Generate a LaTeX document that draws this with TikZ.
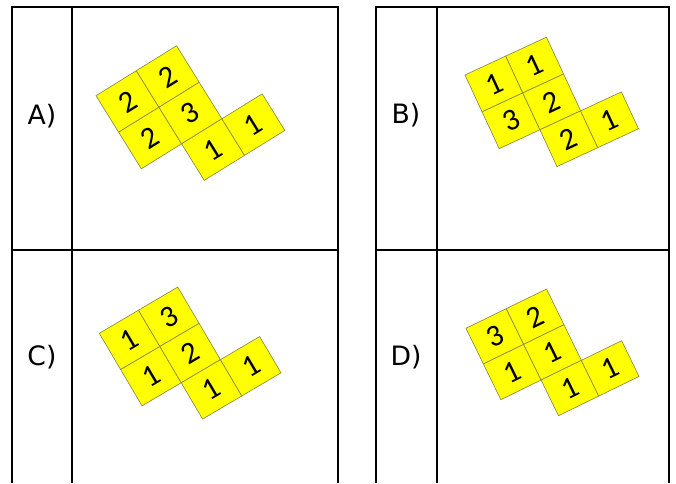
\documentclass[tikz,border=0pt]{standalone}
\usepackage{fontspec}
\newfontfamily\tilefont{Carlito}
\newfontfamily\labelfont{DejaVu Sans}
\definecolor{tileyellow}{RGB}{255,255,0}
\definecolor{tileedge}{RGB}{140,140,70}
\tikzset{
  frame/.style={line width=1.4pt, black},
  lab/.style={anchor=base, font=\labelfont\fontsize{20}{20}\selectfont, inner sep=0pt},
  tile/.style args={#1/#2}{draw=tileedge, fill=tileyellow, line width=0.5pt,
     inner sep=0pt, outer sep=0pt, transform shape,
     minimum width=#1*0.75pt, minimum height=#2*0.75pt,
     font=\tilefont\fontsize{23}{23}\selectfont}
}
\begin{document}
\begin{tikzpicture}[x=0.75pt, y=-0.75pt]
\useasboundingbox (0,0) rectangle (676,483);
% frames
\draw[frame] (12,483) -- (12,7.4) -- (338,7.4) -- (338,483);
\draw[frame] (72,7.4) -- (72,483);
\draw[frame] (12,250) -- (338,250);
\draw[frame] (376,483) -- (376,7.4) -- (668.6,7.4) -- (668.6,483);
\draw[frame] (437,7.4) -- (437,483);
\draw[frame] (376,250) -- (668.6,250);
% labels
\node[lab] (la) at (42,124) {A)};
\node[lab] (lb) at (406,123.5) {B)};
\node[lab] (lc) at (42,365) {C)};
\node[lab] (ld) at (406,365) {D)};
% A
\begin{scope}[shift={(96,95.7)}, rotate=31.8]
\def\w{47.4}\def\h{43}
\node[tile=\w/\h] (a1) at (0.5*\w,0.5*\h) {2};
\node[tile=\w/\h] (a2) at (1.5*\w,0.5*\h) {2};
\node[tile=\w/\h] (a3) at (0.5*\w,1.5*\h) {2};
\node[tile=\w/\h] (a4) at (1.5*\w,1.5*\h) {3};
\node[tile=\w/\h] (a5) at (1.5*\w,2.5*\h) {1};
\node[tile=\w/\h] (a6) at (2.5*\w,2.5*\h) {1};
\end{scope}
% B
\begin{scope}[shift={(465,75)}, rotate=24.9]
\def\w{44.9}\def\h{40.6}
\node[tile=\w/\h] (b1) at (0.5*\w,0.5*\h) {1};
\node[tile=\w/\h] (b2) at (1.5*\w,0.5*\h) {1};
\node[tile=\w/\h] (b3) at (0.5*\w,1.5*\h) {3};
\node[tile=\w/\h] (b4) at (1.5*\w,1.5*\h) {2};
\node[tile=\w/\h] (b5) at (1.5*\w,2.5*\h) {2};
\node[tile=\w/\h] (b6) at (2.5*\w,2.5*\h) {1};
\end{scope}
% C
\begin{scope}[shift={(99.3,333.3)}, rotate=30.5]
\def\w{45.5}\def\h{42.1}
\node[tile=\w/\h] (c1) at (0.5*\w,0.5*\h) {1};
\node[tile=\w/\h] (c2) at (1.5*\w,0.5*\h) {3};
\node[tile=\w/\h] (c3) at (0.5*\w,1.5*\h) {1};
\node[tile=\w/\h] (c4) at (1.5*\w,1.5*\h) {2};
\node[tile=\w/\h] (c5) at (1.5*\w,2.5*\h) {1};
\node[tile=\w/\h] (c6) at (2.5*\w,2.5*\h) {1};
\end{scope}
% D
\begin{scope}[shift={(466,328.3)}, rotate=26]
\def\w{44.8}\def\h{39.7}
\node[tile=\w/\h] (d1) at (0.5*\w,0.5*\h) {3};
\node[tile=\w/\h] (d2) at (1.5*\w,0.5*\h) {2};
\node[tile=\w/\h] (d3) at (0.5*\w,1.5*\h) {1};
\node[tile=\w/\h] (d4) at (1.5*\w,1.5*\h) {1};
\node[tile=\w/\h] (d5) at (1.5*\w,2.5*\h) {1};
\node[tile=\w/\h] (d6) at (2.5*\w,2.5*\h) {1};
\end{scope}
\end{tikzpicture}
\end{document}
